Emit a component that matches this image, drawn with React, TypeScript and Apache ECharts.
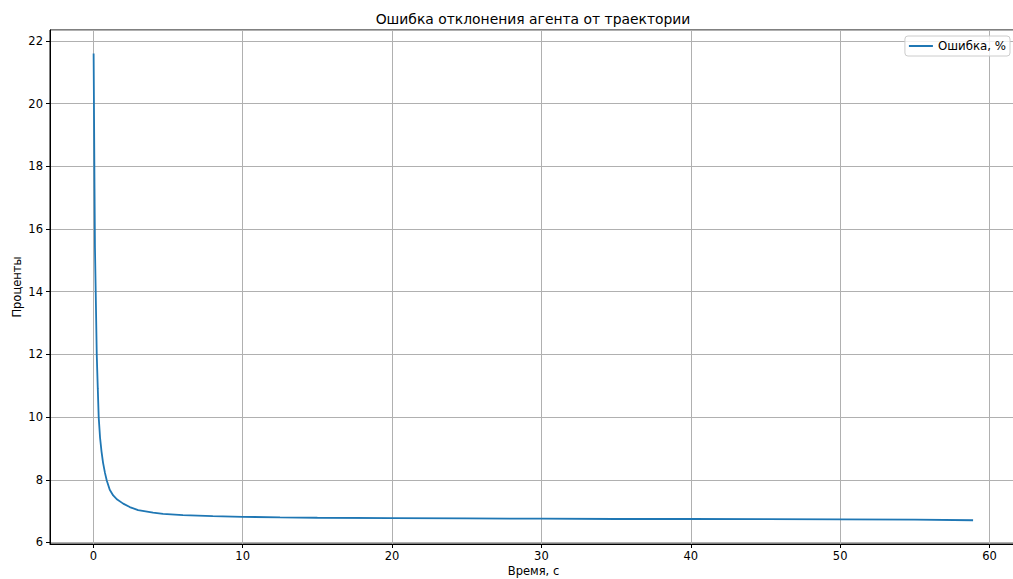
import React, { useEffect, useRef } from "react";
import * as echarts from "echarts";

const titleText = "Ошибка отклонения агента от траектории";
const xName = "Время, с";
const yName = "Проценты";
const seriesName = "Ошибка, %";

const times = [
  0.02, 0.05, 0.08, 0.11, 0.16, 0.23, 0.3, 0.36, 0.45, 0.55, 0.65, 0.78, 0.9,
  1.1, 1.33, 1.6, 2.0, 2.44, 3.0, 4.0, 4.67, 6.0, 8.0, 10.0, 12.5, 15.0, 20.0,
  25.0, 30.0, 35.0, 40.0, 45.0, 50.0, 55.0, 58.9,
];
const errors = [
  21.6, 19.5, 17.3, 15.4, 14.0, 12.0, 10.9, 10.0, 9.35, 8.9, 8.55, 8.22, 7.98,
  7.68, 7.5, 7.37, 7.24, 7.13, 7.03, 6.95, 6.91, 6.87, 6.84, 6.82, 6.8, 6.79,
  6.78, 6.77, 6.76, 6.75, 6.75, 6.745, 6.74, 6.73, 6.71,
];

const FONT = "DejaVu Sans";
const FS = 11.5;

export default function App() {
  const ref = useRef<HTMLDivElement>(null);
  useEffect(() => {
    if (!ref.current) return;
    const chart = echarts.init(ref.current, undefined, { renderer: "svg" });
    const data = times.map((t, i) => [t, errors[i]]);
    chart.setOption({
      animation: false,
      backgroundColor: "#fff",
      textStyle: { fontFamily: FONT },
      title: {
        text: titleText,
        left: 528,
        textAlign: "center",
        top: 7,
        textStyle: { fontFamily: FONT, fontSize: 13.9, fontWeight: "normal", color: "#000" },
      },
      legend: {
        right: 3,
        top: 36,
        orient: "vertical",
        data: [{ name: seriesName, icon: "rect" }],
        itemWidth: 24,
        itemHeight: 2,
        itemGap: 8,
        padding: [4, 4, 4, 4],
        borderColor: "#cccccc",
        borderWidth: 1,
        borderRadius: 3,
        backgroundColor: "rgba(255,255,255,0.8)",
        textStyle: { fontFamily: FONT, fontSize: 11.8, color: "#000" },
      },
      grid: {
        left: 50,
        right: -4,
        top: 30,
        bottom: 35,
        show: true,
        borderColor: "#000",
        borderWidth: 1,
        backgroundColor: "transparent",
        containLabel: false,
        outerBoundsMode: "none",
      },
      xAxis: {
        type: "value",
        min: -2.9,
        max: 61.84,
        splitNumber: 7,
        name: xName,
        nameLocation: "middle",
        nameGap: 21,
        nameMoveOverlap: false,
        nameTextStyle: { fontFamily: FONT, fontSize: FS, color: "#000" },
        axisLine: { show: true, onZero: false, lineStyle: { color: "#000", width: 1 } },
        axisTick: { show: true, length: 4, lineStyle: { color: "#000", width: 1 } },
        axisLabel: {
          show: true,
          margin: 6,
          fontFamily: FONT,
          fontSize: FS,
          color: "#000",
          showMinLabel: false,
          showMaxLabel: false,
        },
        splitLine: { show: true, lineStyle: { color: "#b0b0b0", width: 1 } },
      },
      yAxis: {
        type: "value",
        min: 5.952,
        max: 22.35,
        splitNumber: 8,
        name: yName,
        nameLocation: "middle",
        nameGap: 27,
        nameMoveOverlap: false,
        nameRotate: 90,
        nameTextStyle: { fontFamily: FONT, fontSize: FS, color: "#000" },
        axisLine: { show: true, onZero: false, lineStyle: { color: "#000", width: 1 } },
        axisTick: { show: true, length: 4, lineStyle: { color: "#000", width: 1 } },
        axisLabel: {
          show: true,
          margin: 7,
          fontFamily: FONT,
          fontSize: FS,
          color: "#000",
          showMinLabel: false,
          showMaxLabel: false,
        },
        splitLine: { show: true, lineStyle: { color: "#b0b0b0", width: 1 } },
      },
      series: [
        {
          name: seriesName,
          type: "line",
          data,
          showSymbol: false,
          symbol: "none",
          smooth: false,
          lineStyle: { color: "#1f77b4", width: 1.8 },
          itemStyle: { color: "#1f77b4" },
        },
      ],
    });
    return () => chart.dispose();
  }, []);
  return (
    <div
      ref={ref}
      style={{ position: "fixed", left: 0, top: 0, width: 1013, height: 579 }}
    />
  );
}
